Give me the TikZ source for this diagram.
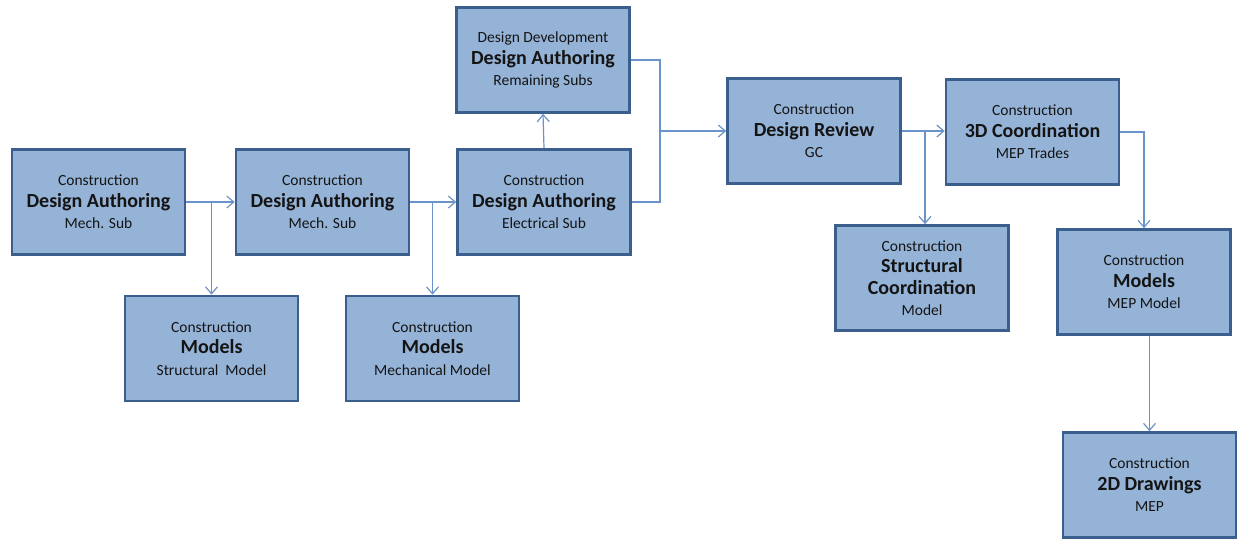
\documentclass[tikz,border=0pt]{standalone}
\usepackage{fontspec}
\setmainfont{Carlito}
\usetikzlibrary{arrows.meta}
\definecolor{boxfill}{HTML}{95B3D7}
\definecolor{boxedge}{HTML}{3A5F8C}
\definecolor{linkcol}{HTML}{6A93C9}
\definecolor{inkcol}{HTML}{141414}
\newcommand{\smallline}[1]{{\fontsize{15.5}{21.5}\selectfont #1}}
\newcommand{\boldline}[1]{{\fontsize{20}{21.5}\selectfont\bfseries #1}}
\newcommand{\stage}[3]{\smallline{#1}\\\boldline{#2}\\\smallline{#3}}
\begin{document}
\begin{tikzpicture}[x=1pt,y=-1pt,
  stagebox/.style={draw=boxedge, fill=boxfill, line width=2.6pt, rectangle,
    minimum width=173pt, minimum height=105pt, align=center, text=inkcol,
    inner sep=2pt, font=\fontsize{15.5}{21.5}\selectfont},
  link/.style={draw=linkcol, line width=1.2pt, -{Straight Barb[length=7pt,width=12pt]}},
  plain/.style={draw=linkcol, line width=1.2pt}]
\useasboundingbox (0,0) rectangle (1238,540);

% upper chain
\node[stagebox] (A) at (98.5,202) {\stage{Construction}{Design Authoring}{Mech. Sub}};
\node[stagebox] (B) at (322.5,202) {\stage{Construction}{Design Authoring}{Mech. Sub}};
\node[stagebox] (C) at (544,202) {\stage{Construction}{Design Authoring}{Electrical Sub}};
\node[stagebox] (D) at (543,60) {\stage{Design Development}{Design Authoring}{Remaining Subs}};
\node[stagebox] (E) at (814,131) {\stage{Construction}{Design Review}{GC}};
\node[stagebox] (F) at (1032.5,132) {\stage{Construction}{3D Coordination}{MEP Trades}};

% outputs
\node[stagebox] (J) at (211.5,348.5) {\stage{Construction}{Models}{Structural\ \ Model}};
\node[stagebox] (K) at (432.5,348.5) {\stage{Construction}{Models}{Mechanical Model}};
\node[stagebox] (G) at (922,278) {\smallline{Construction}\\\boldline{Structural}\\\boldline{Coordination}\\\smallline{Model}};
\node[stagebox] (H) at (1144,282) {\stage{Construction}{Models}{MEP Model}};
\node[stagebox] (I) at (1149.5,485) {\stage{Construction}{2D Drawings}{MEP}};

% connectors
\draw[link] (A.east) -- (B.west);
\draw[link] (A.east -| J) -- (J.north);
\draw[link] (B.east) -- (C.west);
\draw[link] (B.east -| K) -- (K.north);
\draw[link] (C.north) -- (D.south);

\coordinate (merge) at (660,131);
\draw[plain] (D.east) -| (merge);
\draw[plain] (C.east) -| (merge);
\draw[link] (merge) -- (E.west);

\coordinate (split) at (925,131);
\draw[link] (E.east) -- (E.east -| F.west);
\draw[link] (split) -- (split |- G.north);
\draw[link] (F.east) -| (H.north);
\draw[link] (I.north |- H.south) -- (I.north);
\end{tikzpicture}
\end{document}
